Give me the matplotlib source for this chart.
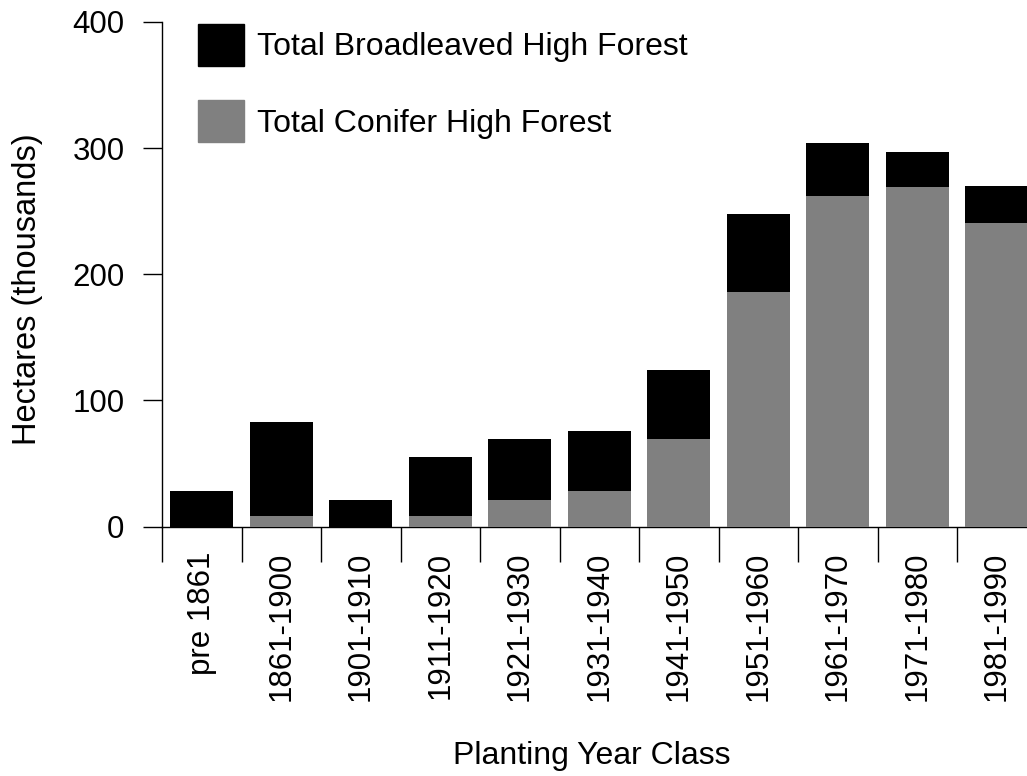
import numpy as np
import matplotlib.pyplot as plt
from matplotlib.patches import Patch

# planting year classes and areas (thousand hectares)
categories = ['pre 1861', '1861-1900', '1901-1910', '1911-1920', '1921-1930',
              '1931-1940', '1941-1950', '1951-1960', '1961-1970', '1971-1980',
              '1981-1990']
conifer = [0, 8, 0, 8, 21, 28, 69, 186, 262, 269, 241]
total = [28, 83, 21, 55, 69, 76, 124, 248, 304, 297, 270]
broadleaved = [t - c for t, c in zip(total, conifer)]

plt.rcParams['font.family'] = ['Liberation Sans', 'DejaVu Sans']

W, H = 1027, 776
fig = plt.figure(figsize=(W / 100, H / 100), dpi=100)
# axes placed in pixels, the last category runs past the right edge
x0, x1 = 162, 162 + 11 * 79.5
y0, y1 = 526.5, 22
ax = fig.add_axes([x0 / W, (H - y0) / H, (x1 - x0) / W, (y0 - y1) / H])

x = np.arange(len(categories))
ax.bar(x, conifer, width=0.79, color='#808080', zorder=3)
ax.bar(x, broadleaved, bottom=conifer, width=0.79, color='black', zorder=3)

ax.set_xlim(-0.5, len(categories) - 0.5)
ax.set_ylim(0, 400)
ax.set_yticks([0, 100, 200, 300, 400])
ax.tick_params(axis='y', direction='out', length=14, width=1, labelsize=22.5, pad=13)

# ticks at the category boundaries, labels at the centres
ax.set_xticks(np.arange(-0.5, len(categories) - 0.5, 1.0))
ax.set_xticklabels([])
ax.tick_params(axis='x', which='major', direction='out', length=25, width=1)
ax.set_xticks(x, minor=True)
ax.set_xticklabels(categories, minor=True, rotation=90, fontsize=22.5)
ax.tick_params(axis='x', which='minor', length=0, pad=18)

for side in ['top', 'right']:
    ax.spines[side].set_visible(False)
ax.spines['left'].set_linewidth(1)
ax.spines['bottom'].set_linewidth(1)

fig.text(28 / W, 1 - 289 / H, 'Hectares (thousands)', fontsize=23.5,
         rotation=90, ha='center', va='center')
fig.text(592 / W, 1 - 756 / H, 'Planting Year Class', fontsize=23,
         ha='center', va='center')

handles = [Patch(color='black'), Patch(color='#808080')]
ax.legend(handles, ['Total Broadleaved High Forest', 'Total Conifer High Forest'],
          loc='upper left', bbox_to_anchor=(198 / W, 1 - 24 / H),
          bbox_transform=fig.transFigure, frameon=False, fontsize=23,
          handlelength=1.44, handleheight=1.65, handletextpad=0.42,
          labelspacing=1.07, borderpad=0, borderaxespad=0)

fig.savefig('out.png', dpi=100)
